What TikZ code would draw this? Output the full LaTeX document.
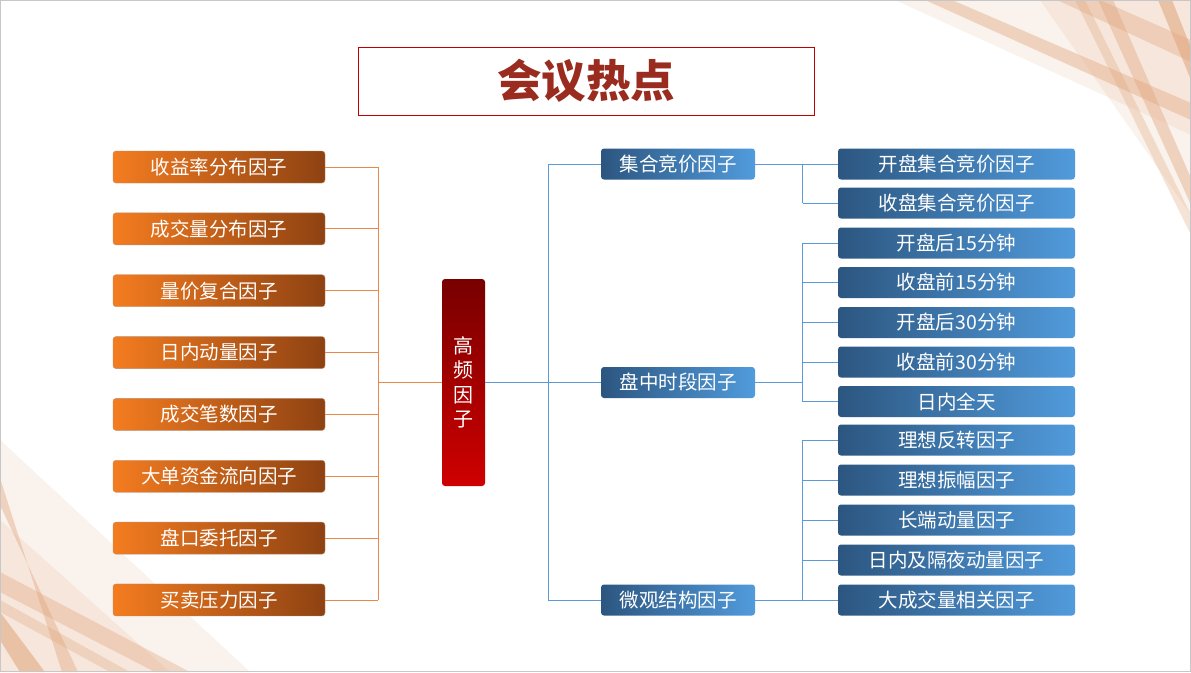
\documentclass[tikz,border=0pt]{standalone}
\usepackage{fontspec}
\setmainfont{Noto Sans CJK SC}
\begin{document}
\begin{tikzpicture}[x=1pt,y=-1pt,
  lbox/.style={rounded corners=3pt, minimum width=212pt, minimum height=32pt, inner sep=0pt,
    left color=orgL, right color=orgR, draw=orgR!60!white, line width=0.4pt,
    text=white, font=\fontsize{19.5}{22}\selectfont},
  mbox/.style={rounded corners=3pt, minimum width=154pt, minimum height=31pt, inner sep=0pt,
    left color=bluL, right color=bluR, draw=none,
    text=white, font=\fontsize{19.5}{22}\selectfont},
  rbox/.style={mbox, minimum width=237pt},
  lconn/.style={draw=lineO, line width=0.8pt},
  rconn/.style={draw=lineB, line width=0.8pt},
  deco/.style={fill=peach, draw=none}
]
\definecolor{orgL}{HTML}{F47C20}
\definecolor{orgR}{HTML}{8E4212}
\definecolor{bluL}{HTML}{2C5680}
\definecolor{bluR}{HTML}{519BDC}
\definecolor{lineO}{HTML}{E8894A}
\definecolor{lineB}{HTML}{5B9BD5}
\definecolor{peach}{HTML}{E0A47A}
\definecolor{titleC}{HTML}{9A2C1F}
\definecolor{frameR}{HTML}{C00000}
\definecolor{hubT}{HTML}{780000}
\definecolor{hubB}{HTML}{CF0000}

\useasboundingbox (0,0) rectangle (1191,672);
\fill[white] (0,0) rectangle (1191,672);

% decorations top-right
\fill[deco, opacity=0.14] (895,0) -- (1191,0) -- (1191,135) -- cycle;
\fill[deco, opacity=0.14] (1040,0) -- (1191,0) -- (1191,215) -- cycle;
\fill[deco, opacity=0.4] (925,0) -- (952,0) -- (1191,103) -- (1191,120) -- cycle;
\fill[deco, opacity=0.35] (1057,0) -- (1100,0) -- (1191,40) -- (1191,62) -- cycle;
\fill[deco, opacity=0.4] (1098,0) -- (1113,0) -- (1191,178) -- (1191,205) -- cycle;
\fill[deco, opacity=0.3] (1075,0) -- (1085,0) -- (1191,215) -- (1191,235) -- cycle;
\fill[deco, opacity=0.55] (1158,0) -- (1172,0) -- (1191,48) -- (1191,80) -- cycle;
% decorations bottom-left
\fill[deco, opacity=0.14] (0,440) -- (0,672) -- (250,672) -- cycle;
\fill[deco, opacity=0.14] (0,520) -- (0,672) -- (170,672) -- cycle;
\fill[deco, opacity=0.4] (0,478) -- (0,505) -- (78,672) -- (62,672) -- cycle;
\fill[deco, opacity=0.35] (0,572) -- (0,592) -- (155,672) -- (190,672) -- cycle;
\fill[deco, opacity=0.3] (0,600) -- (0,612) -- (110,672) -- (130,672) -- cycle;
\fill[deco, opacity=0.55] (0,612) -- (0,640) -- (20,672) -- (45,672) -- cycle;

% frame
\draw[draw=black!22, line width=1pt] (0.5,0.5) rectangle (1190.5,671.5);

% title
\node[draw=frameR, line width=0.8pt, minimum width=456pt, minimum height=68pt, inner sep=0pt,
  text=titleC, font=\fontsize{44.5}{50}\selectfont\bfseries] (title) at (586,81) {会议热点};

% hub
\node[rounded corners=3pt, minimum width=43pt, minimum height=207pt, inner sep=0pt,
  top color=hubT, bottom color=hubB, text=white, align=center,
  font=\fontsize{20}{24.5}\selectfont] (hub) at (463.5,382.5) {高\\频\\因\\子};

% left boxes
\foreach \i/\t in {1/收益率分布因子,2/成交量分布因子,3/量价复合因子,4/日内动量因子,5/成交笔数因子,6/大单资金流向因子,7/盘口委托因子,8/买卖压力因子}{
  \node[lbox] (l\i) at (219,{167+61.85*(\i-1)}) {\t};
}
\coordinate (LV) at (378,382.5);
\foreach \i in {1,...,8}{ \draw[lconn] (l\i.east) -- (l\i.east -| LV); }
\draw[lconn] (l1.east -| LV) -- (l8.east -| LV);
\draw[lconn] (LV) -- (LV -| hub.west);

% mid boxes
\node[mbox] (m1) at (678,164) {集合竞价因子};
\node[mbox] (m2) at (678,382.5) {盘中时段因子};
\node[mbox] (m3) at (678,600) {微观结构因子};
\coordinate (RV) at (548,382.5);
\draw[rconn] (hub.east) -- (RV);
\draw[rconn] (m1.west -| RV) -- (m3.west -| RV);
\foreach \i in {1,2,3}{ \draw[rconn] (m\i.west -| RV) -- (m\i.west); }

% right boxes
\node[rbox] (r1) at (956.5,164) {开盘集合竞价因子};
\node[rbox] (r2) at (956.5,203) {收盘集合竞价因子};
\node[rbox] (r3) at (956.5,243) {开盘后15分钟};
\node[rbox] (r4) at (956.5,282.5) {收盘前15分钟};
\node[rbox] (r5) at (956.5,322.5) {开盘后30分钟};
\node[rbox] (r6) at (956.5,362) {收盘前30分钟};
\node[rbox] (r7) at (956.5,401.5) {日内全天};
\node[rbox] (r8) at (956.5,440) {理想反转因子};
\node[rbox] (r9) at (956.5,480) {理想振幅因子};
\node[rbox] (r10) at (956.5,520) {长端动量因子};
\node[rbox] (r11) at (956.5,560) {日内及隔夜动量因子};
\node[rbox] (r12) at (956.5,600) {大成交量相关因子};
\coordinate (JV) at (802.5,0);
\foreach \i in {1,...,12}{ \draw[rconn] (r\i.west -| JV) -- (r\i.west); }
\foreach \i in {1,2,3}{ \draw[rconn] (m\i.east) -- (m\i.east -| JV); }
\draw[rconn] (r1.west -| JV) -- (r2.west -| JV);
\draw[rconn] (r3.west -| JV) -- (r7.west -| JV);
\draw[rconn] (r8.west -| JV) -- (r12.west -| JV);
\end{tikzpicture}
\end{document}
